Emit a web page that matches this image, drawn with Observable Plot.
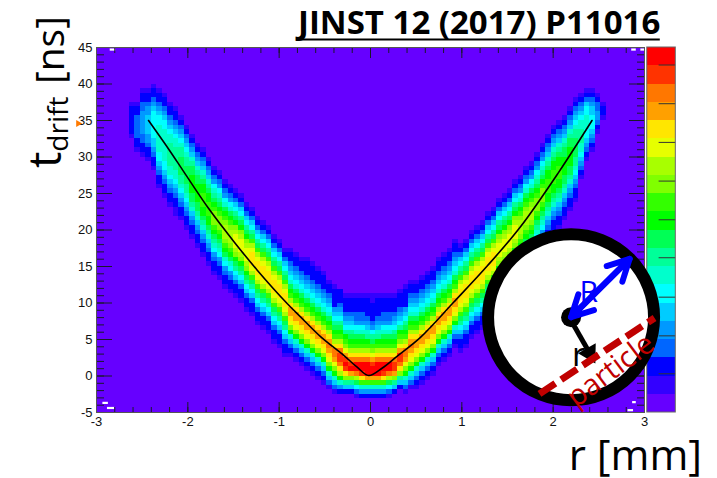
<!DOCTYPE html>
<html><head><meta charset="utf-8">
<style>html,body{margin:0;padding:0;background:#fff}svg{display:block}</style>
<script src="https://cdn.jsdelivr.net/npm/d3@7"></script>
<script src="https://cdn.jsdelivr.net/npm/@observablehq/plot@0.6"></script>
</head><body><div id="chart"></div>
<script>
// 20-step palette of the colour bar, bottom to top
const palette = ["#6600ff","#3300ff","#0000ff","#0066ff","#0099ff","#00ccff","#00ffff","#00ffcc","#00ff99","#00ff55",
  "#00ff00","#33ff00","#80ff00","#a8ff00","#e6ff00","#ffe600","#ffa000","#ff7700","#ff3300","#ff0000"];
const firstColumn = 6;            // histogram column of the first entry below
const binX = 0.06, binT = 0.625;  // histogram bin widths
// one entry per column: first occupied row, then one base-20 colour level per row, low t to high t
const columns = [
"60:12222221","57:12233333221","56:122334444433221","55:1223445555443221","53:1223455666666543221",
"49:1223456677777766543221","47:12234566777777766543221","45:12234567788888776543221","43:112234567788888776543221",
"42:12234567889999887654321","40:12234567889999887654321","38:1223457899aaaa998754321","36:1223457899aaaa998754321",
"34:122345789aabbbaa98754321","32:122345789aabbbaa98754321","30:122346789abcccba98764321","29:122346789abcccba98764321",
"27:12234679abcdddcba9764321","26:12234679abcdddcba9764321","25:12235689acdeeedca9865321","24:12235689acdeeedca9865321",
"22:12235689acdeeedca9865321","21:12235689bdefffedb9865321","19:12235689bdefffedb9865321","18:12235689bdefffedb9865321",
"17:12235689bdefffedb9865321","15:12235689bdefffedb9865321","14:12235689bdefffedb9865321","12:12235689bdefffedb9865321",
"12:12357acefggfdba976543221","11:12357acefggfdba976543221","10:12357acefggfdba976543221","9:12357acefggfdba9765432221",
"8:12357acefggfdba9765432221","7:12357acefggfdba9765432221","6:12357acefggfdba9765432221","5:1357acefghgfdba976543221",
"4:1357aceghhfdba9865422221","4:247adfhiihfdba986543222","4:258cfijigecba865432221","4:258cgjihfdba9865432221",
"3:1369dhjjhfdba9764332221","3:247bfijjhfdba9764332221","3:247bgjjjhfdba8754322221","3:247bgjjigecb98643222211",
"3:247bgjjjhfdba8754322221","3:247bfijjhfdba9764332221","3:1369dhjjhfdba9764332221","4:258cgiihfdba9865432221",
"5:258cfhiigecba865432221","4:1357aceghhfdba9865422221","5:1357acefghgfdba976543221","5:12357acefggfdba976543221",
"6:12357acefggfdba976543221","7:12357acefggfdba976543221","8:12357acefggfdba976543221","10:12357acefggfdba976543221",
"11:12357acefggfdba976543221","12:12357acefggfdba976543221","14:12357acefggfdba976543221","13:12235689bdefffedb9865321",
"14:12235689bdefffedb9865321","16:12235689bdefffedb9865321","17:12235689bdefffedb9865321","18:12235689bdefffedb9865321",
"20:12235689bdefffedb9865321","21:12235689bdefffedb9865321","23:12235689acdeeedca9865321","24:12235689acdeeedca9865321",
"25:12235689acdeeedca9865321","27:12235689acdeeedca9865321","28:12234679abcdddcba9764321","30:12234679abcdddcba9764321",
"31:12234679abcdddcba9764321","33:122346789abcccba98764321","35:122346789abcccba98764321","37:122345789aabbbaa98754321",
"39:122345789aabbbaa98754321","40:122345789aabbbaa98754321","42:1223457899aaaa998754321","44:1223457899aaaa998754321",
"46:12234567889999887654321","51:1234567788877654321","55:1234566777665321","57:12345666554321","61:123443321","64:1221"];
// drift-time curve
const curveR = [-2.43,-2.2,-2.04,-1.77,-1.495,-1.24,-0.91,-0.766,-0.547,-0.29,-0.146,-0.02,0.13,0.29,0.547,0.91,1.28,1.64,2.06,2.425];
const curveT = [35,30.9,27.9,22.9,18.4,14.5,9.9,8.1,5.4,2.8,1.2,0.07,1.1,2.7,5.3,10.1,15.1,20.4,27.9,35];
const barTicks = [42.6,37.3,32,26.7,21.4,16.2,10.8,5.5,0.3];
const barR = [3.03,3.343];
const yMajor = [-5,0,5,10,15,20,25,30,35,40,45];
const yMinor = d3.range(-5,46,1);
const xMajor = [-3,-2,-1,0,1,2,3];
const xMinor = d3.range(-3,3.01,0.2);
// white specks in the histogram corners [r1,r2,t1,t2]
const specks = [[-2.85,-2.79,44.5,44.8],[-2.93,-2.87,-3.9,-3.6],[-2.88,-2.80,-4.6,-4.3],[2.87,2.91,-3.8,-3.5],[2.82,2.88,-4.9,-4.6],[2.86,2.91,44.5,44.8],[2.96,3,44.5,44.8]];
// inset drawing, in chart coordinates
const ringCentre = [2.196,8.05];
const blueTip = [2.837,16.05];
const blackFrom = [2.21,7.3];
const blackTip = [2.41,2.9];
const blackHead = [2.4,3.1];
const trackFrom = [1.85,-2.45];
const trackTo = [3.11,7.95];

const cells = columns.flatMap((c,k)=>{
  const [start,levels] = c.split(":");
  return Array.from(levels,(ch,j)=>{
    const i = firstColumn+k, row = +start+j;
    return {x1:-3+i*binX,x2:-3+(i+1)*binX,y1:-5+row*binT,y2:-5+(row+1)*binT,level:parseInt(ch,20)};
  });
});
const barCells = palette.map((_,k)=>({level:k,y1:-5+2.5*k,y2:-5+2.5*(k+1)}));
const curve = curveR.map((r,i)=>({r,t:curveT[i]}));
const ink = "#1a1a2a";
const bodyFont = "'Open Sans'";
const tickFont = "'Liberation Sans'";
const big = (text,x,y,size,o={})=>Plot.text([text],{x:()=>x,y:()=>y,text:d=>d,fontSize:size,fontFamily:bodyFont,fill:"#000",...o});

const chart = Plot.plot({
  width:717,height:478,marginTop:47,marginBottom:66,marginLeft:96,marginRight:73,
  style:{background:"#fff",overflow:"visible"},
  x:{domain:[-3,3],axis:null},
  y:{domain:[-5,45],axis:null},
  color:{type:"ordinal",domain:d3.range(20),range:palette},
  marks:[
    Plot.rect([{x1:-3,x2:3,y1:-5,y2:45}],{x1:"x1",x2:"x2",y1:"y1",y2:"y2",fill:()=>0,shapeRendering:"crispEdges"}),
    Plot.rect(cells,{x1:"x1",x2:"x2",y1:"y1",y2:"y2",fill:"level",shapeRendering:"crispEdges"}),
    Plot.rect(specks,{x1:d=>d[0],x2:d=>d[1],y1:d=>d[2],y2:d=>d[3],fill:"#fff"}),
    Plot.line(curve,{x:"r",y:"t",stroke:"#000",strokeWidth:1.6,curve:"catmull-rom"}),
    // colour bar
    Plot.rect(barCells,{x1:()=>barR[0],x2:()=>barR[1],y1:"y1",y2:"y2",fill:"level",shapeRendering:"crispEdges"}),
    Plot.ruleY(barTicks,{x1:()=>3.16,x2:()=>barR[1],stroke:"#333",strokeWidth:1}),
    Plot.rect([0],{x1:()=>barR[0],x2:()=>barR[1],y1:()=>-5,y2:()=>45,stroke:"#666",fill:"none"}),
    // ticks on all four sides
    Plot.axisX(xMajor,{anchor:"bottom",tickSize:-10,tickFormat:()=>"",stroke:ink}),
    Plot.axisX(xMinor,{anchor:"bottom",tickSize:-5,tickFormat:()=>"",stroke:ink}),
    Plot.axisX(xMajor,{anchor:"top",tickSize:-10,tickFormat:()=>"",stroke:ink}),
    Plot.axisX(xMinor,{anchor:"top",tickSize:-5,tickFormat:()=>"",stroke:ink}),
    Plot.axisY(yMajor,{anchor:"left",tickSize:-16,tickFormat:()=>"",stroke:ink}),
    Plot.axisY(yMinor,{anchor:"left",tickSize:-8,tickFormat:()=>"",stroke:ink}),
    Plot.axisY(yMajor,{anchor:"right",tickSize:-16,tickFormat:()=>"",stroke:ink}),
    Plot.axisY(yMinor,{anchor:"right",tickSize:-8,tickFormat:()=>"",stroke:ink}),
    Plot.frame({stroke:"#555"}),
    Plot.axisX(xMajor,{anchor:"bottom",tickSize:0,tickPadding:4,tickFormat:d=>String(d),fontSize:13,fontFamily:tickFont,fill:"#111"}),
    Plot.axisY(yMajor,{anchor:"left",tickSize:0,tickPadding:4,tickFormat:d=>String(d),fontSize:13,fontFamily:tickFont,fill:"#111"}),
    Plot.dot([0],{x:()=>-3.2,y:()=>34.6,symbol:"triangle",r:2.6,fill:"#ff7a00",rotate:90}),
    // titles
    big("JINST 12 (2017) P11016",3.173,46.8,33,{fontWeight:700,textAnchor:"end",lineAnchor:"bottom"}),
    Plot.ruleY([46.1],{x1:()=>-0.788,x2:()=>3.173,stroke:"#000",strokeWidth:2}),
    big("r [mm]",3.63,-12.9,42,{textAnchor:"end",lineAnchor:"bottom"}),
    big("t",-3.39,29.6,46,{rotate:-90,lineAnchor:"bottom"}),
    big("drift",-3.315,34.5,28,{rotate:-90,lineAnchor:"bottom"}),
    big("[ns]",-3.36,44.65,39,{rotate:-90,lineAnchor:"bottom"}),
    // inset
    Plot.dot([ringCentre],{x:d=>d[0],y:d=>d[1],r:83,fill:"#fff",stroke:"#000",strokeWidth:12}),
    Plot.dot([ringCentre],{x:d=>d[0],y:d=>d[1],r:10,fill:"#000"}),
    big("R",2.39,11.5,30,{fill:"#0000ff"}),
    Plot.arrow([0],{x1:()=>ringCentre[0],y1:()=>ringCentre[1],x2:()=>blueTip[0],y2:()=>blueTip[1],stroke:"#0000ff",strokeWidth:6,headLength:6,headAngle:55}),
    Plot.arrow([0],{x1:()=>blueTip[0],y1:()=>blueTip[1],x2:()=>ringCentre[0],y2:()=>ringCentre[1],stroke:"#0000ff",strokeWidth:6,headLength:6,headAngle:55}),
    big("r",2.28,2.8,33,{}),
    Plot.link([0],{x1:()=>blackFrom[0],y1:()=>blackFrom[1],x2:()=>blackTip[0],y2:()=>blackTip[1],stroke:"#000",strokeWidth:5}),
    Plot.dot([blackHead],{x:d=>d[0],y:d=>d[1],symbol:"triangle",r:7.5,fill:"#000",rotate:151}),
    Plot.link([0],{x1:()=>trackFrom[0],y1:()=>trackFrom[1],x2:()=>trackTo[0],y2:()=>trackTo[1],stroke:"#c00000",strokeWidth:7,strokeDasharray:"19,7"}),
    big("particle",2.63,0.75,29,{fill:"#c00000",rotate:-37})
  ]
});
document.getElementById("chart").appendChild(chart);
</script></body></html>
